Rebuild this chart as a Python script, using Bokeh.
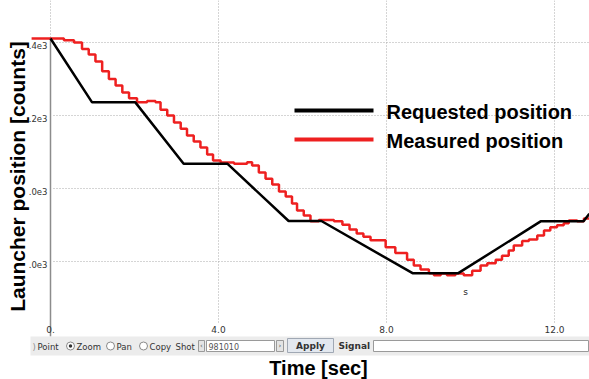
from bokeh.plotting import figure
from bokeh.models import Range1d
from bokeh.core.properties import value
from bokeh.embed import file_html
from bokeh.resources import INLINE

# ---- data -------------------------------------------------------------
# requested launcher position (counts) vs time (s)
REQ_T = [0.0, 0.99, 2.02, 3.17, 4.21, 5.67, 6.45, 8.62, 9.71, 11.67, 12.69, 12.83]
REQ_C = [1411, 1236, 1236, 1068, 1068, 911, 911, 768, 768, 910, 910, 931]

# measured launcher position (counts), sampled/held -> staircase
MEAS_T = [-0.45, 0.32, 0.56, 0.75, 0.91, 1.07, 1.23, 1.39, 1.55, 1.71, 1.87, 2.06,
          2.30, 2.50, 2.62, 2.78, 2.94, 3.10, 3.25, 3.41, 3.57, 3.73, 3.87, 4.05,
          4.37, 4.68, 4.80, 4.96, 5.12, 5.28, 5.44, 5.60, 5.75, 5.87, 6.03, 6.19,
          6.39, 6.75, 6.95, 7.12, 7.29, 7.45, 7.62, 7.98, 8.21, 8.49, 8.65, 8.81,
          9.01, 9.13, 9.29, 9.44, 9.64, 9.84, 10.04, 10.24, 10.40, 10.60, 10.75,
          10.91, 11.03, 11.23, 11.39, 11.59, 11.75, 11.90, 12.06, 12.22, 12.34,
          12.54, 12.70, 12.83]
MEAS_C = [1411, 1406, 1400, 1382, 1367, 1348, 1321, 1300, 1282, 1263, 1247, 1236,
          1240, 1236, 1216, 1200, 1181, 1164, 1145, 1129, 1112, 1093, 1077, 1071,
          1068, 1072, 1063, 1044, 1027, 1011, 992, 978, 959, 940, 926, 910,
          914, 910, 901, 888, 877, 868, 858, 839, 823, 805, 789, 778,
          768, 762, 767, 762, 767, 762, 775, 789, 795, 805, 816,
          830, 844, 856, 860, 871, 885, 894, 899, 905, 912,
          910, 918, 918]

X_TICKS = [0, 4, 8, 12]
X_TICK_LABELS = ["0.", "4.0", "8.0", "12.0"]
Y_TICKS = [1400, 1200, 1000, 800]
Y_TICK_LABELS = [".4e3", ".2e3", ".0e3", ".0e3"]

SERIES = ["Requested position", "Measured position"]
COLORS = ["#000000", "#ee2020"]

# ---- canvas geometry ----------------------------------------------------
W, H = 589, 379
X0_PX, PX_PER_SEC = 50, 42.0
Y_REF_PX, Y_REF, PX_PER_COUNT = 42, 1400, 73 / 200


def tx(px):
    return (px - X0_PX) / PX_PER_SEC


def cy(py):
    return Y_REF - (py - Y_REF_PX) / PX_PER_COUNT


p = figure(width=W, height=H,
           x_range=Range1d(tx(0), tx(W)), y_range=Range1d(cy(H), cy(0)),
           x_axis_type=None, y_axis_type=None,
           toolbar_location=None, output_backend="svg", min_border=0)
p.outline_line_color = None
p.background_fill_color = "white"
p.border_fill_color = "white"

FONT = value("DejaVu Sans")
TITLE_FONT = value("Liberation Sans")
GRID = "#aaaaaa"

# grid lines
p.segment(x0=[tx(53)] * len(Y_TICKS), x1=[tx(W)] * len(Y_TICKS), y0=Y_TICKS, y1=Y_TICKS,
          line_color=GRID, line_dash="1 2", line_width=1)
p.segment(x0=X_TICKS, x1=X_TICKS, y0=[cy(0)] * len(X_TICKS), y1=[cy(322)] * len(X_TICKS),
          line_color=GRID, line_dash="1 2", line_width=1)
# y axis line at t = 0
p.segment(x0=[0], x1=[0], y0=[cy(37)], y1=[cy(336)], line_color="#8c8c8c", line_width=1.5)

# axis title (drawn under the tick labels)
p.text(x=[tx(17)], y=[cy(176)], text=["Launcher position [counts]"], angle=1.5707963,
       text_align="center", text_baseline="middle",
       text_font=TITLE_FONT, text_font_style="bold", text_font_size="21px",
       text_color="#000000")

# tick labels
p.text(x=[tx(47)] * len(Y_TICKS), y=[c - 3 / PX_PER_COUNT for c in Y_TICKS], text=Y_TICK_LABELS,
       text_align="right", text_baseline="middle", text_font=FONT,
       text_font_size="8.5px", text_color="#333333")
p.text(x=X_TICKS, y=[cy(329)] * len(X_TICKS), text=X_TICK_LABELS,
       text_align="center", text_baseline="middle", text_font=FONT,
       text_font_size="9px", text_color="#333333")
p.text(x=[tx(465)], y=[cy(291)], text=["s"], text_align="center", text_baseline="middle",
       text_font=FONT, text_font_size="9px", text_color="#222222")

# data lines
p.step(MEAS_T, MEAS_C, mode="after", line_color=COLORS[1], line_width=2.5)
p.line(REQ_T, REQ_C, line_color=COLORS[0], line_width=2.5)

# legend
for i, (name, col) in enumerate(zip(SERIES, COLORS)):
    ypx = 110 + 29 * i
    p.segment(x0=[tx(294)], x1=[tx(373)], y0=[cy(ypx)], y1=[cy(ypx)], line_color=col, line_width=4)
    p.text(x=[tx(386)], y=[cy(ypx + 1.5)], text=[name], text_align="left", text_baseline="middle",
           text_font=TITLE_FONT, text_font_style="bold",
           text_font_size="20px", text_color="#000000")

# control strip below the plot
p.quad(left=[tx(30)], right=[tx(W)], top=[cy(336)], bottom=[cy(355)],
       fill_color="#ececec", line_color=None)
p.text(x=[tx(32)], y=[cy(346)], text=[")"], text_align="left", text_baseline="middle",
       text_font=FONT, text_font_size="8.5px", text_color="#8c8c8c")
labels_px = [(37, "Point"), (76, "Zoom"), (116, "Pan"), (149, "Copy"), (175, "Shot")]
p.text(x=[tx(a) for a, _ in labels_px], y=[cy(346)] * len(labels_px), text=[t for _, t in labels_px],
       text_align="left", text_baseline="middle", text_font=FONT, text_font_size="8.5px",
       text_color="#333333")
radio_px = [70, 110, 143]
p.scatter(x=[tx(a) for a in radio_px], y=[cy(345.5)] * 3, marker="circle", size=8,
          fill_color="white", line_color="#8a8a8a", line_width=1)
p.scatter(x=[tx(70)], y=[cy(345.5)], marker="circle", size=3.5, fill_color="#333333", line_color=None)
# shot spinner and field
p.quad(left=[tx(198), tx(276)], right=[tx(204), tx(283)], top=[cy(340)] * 2, bottom=[cy(351)] * 2,
       fill_color="#e4e4e4", line_color="#9a9a9a", line_width=1)
p.text(x=[tx(201), tx(279.5)], y=[cy(345.5)] * 2, text=["‹", "›"], text_align="center",
       text_baseline="middle", text_font=FONT, text_font_size="7px", text_color="#555555")
p.quad(left=[tx(206)], right=[tx(274)], top=[cy(340)], bottom=[cy(351)],
       fill_color="white", line_color="#9a9a9a", line_width=1)
p.text(x=[tx(208)], y=[cy(345.5)], text=["981010"], text_align="left", text_baseline="middle",
       text_font=FONT, text_font_size="8px", text_color="#555555")
# apply button
p.quad(left=[tx(287)], right=[tx(333)], top=[cy(338)], bottom=[cy(352)],
       fill_color="#e3e8ef", line_color="#a0a8b4", line_width=1)
p.text(x=[tx(310)], y=[cy(345.5)], text=["Apply"], text_align="center", text_baseline="middle",
       text_font=FONT, text_font_style="bold", text_font_size="9px", text_color="#333333")
p.text(x=[tx(338)], y=[cy(345.5)], text=["Signal"], text_align="left", text_baseline="middle",
       text_font=FONT, text_font_style="bold", text_font_size="9px", text_color="#333333")
p.quad(left=[tx(373)], right=[tx(588)], top=[cy(340)], bottom=[cy(351)],
       fill_color="white", line_color="#9a9a9a", line_width=1)

# x axis title
p.text(x=[tx(318)], y=[cy(367)], text=["Time [sec]"], text_align="center", text_baseline="middle",
       text_font=TITLE_FONT, text_font_style="bold", text_font_size="20px",
       text_color="#000000")

open("out.html", "w").write(file_html(p, INLINE))
